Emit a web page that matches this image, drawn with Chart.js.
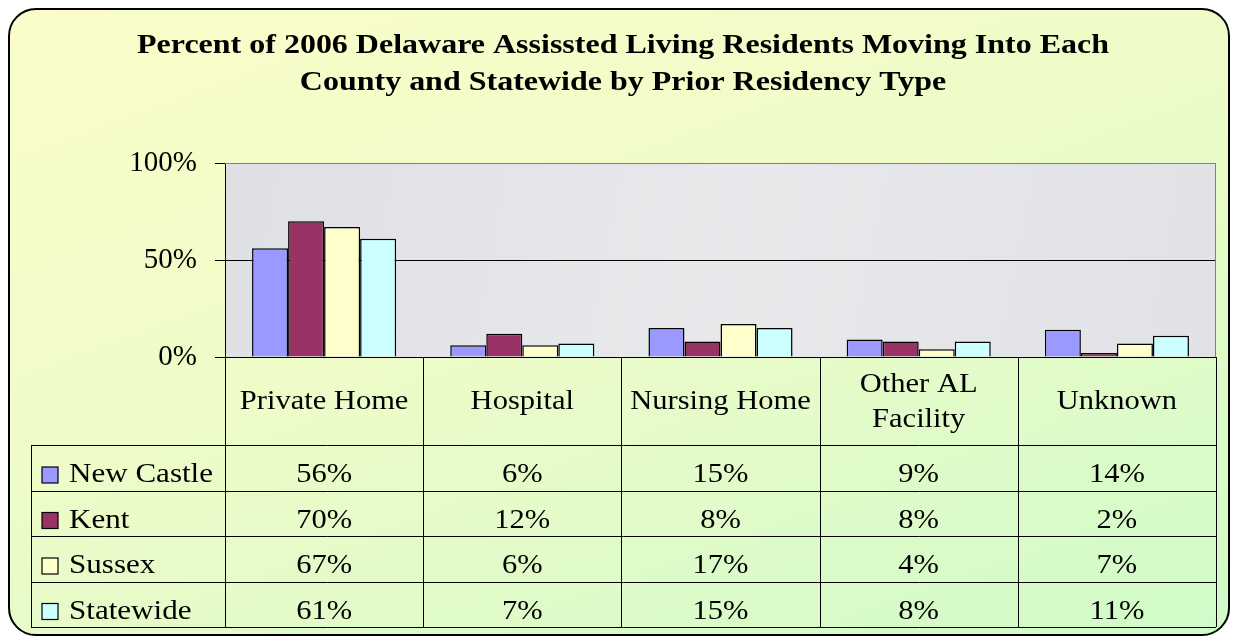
<!DOCTYPE html>
<html>
<head>
<meta charset="utf-8">
<script src="https://cdn.jsdelivr.net/npm/chart.js@4"></script>
<style>
  html, body { margin: 0; padding: 0; width: 1236px; height: 642px; overflow: hidden; background: #fff; }
  #frame {
    position: absolute; left: 8px; top: 8px; width: 1218px; height: 624px;
    border: 2px solid #000; border-radius: 28px;
    background: linear-gradient(160deg, #fbfdc9 0%, #eefcc8 45%, #d0fbc8 100%);
  }
  #chart { position: absolute; left: 0; top: 0; }
</style>
</head>
<body>
<div id="frame"></div>
<canvas id="chart" width="1236" height="642"></canvas>
<script>
const titleLines = ['Percent of 2006 Delaware Assissted Living Residents Moving Into Each',
                    'County and Statewide by Prior Residency Type'];
const categories = [['Private Home'], ['Hospital'], ['Nursing Home'], ['Other AL', 'Facility'], ['Unknown']];
const seriesNames = ['New Castle', 'Kent', 'Sussex', 'Statewide'];
const newCastle = [56, 6, 15, 9, 14];
const kent = [70, 12, 8, 8, 2];
const sussex = [67, 6, 17, 4, 7];
const statewide = [61, 7, 15, 8, 11];
const yTicks = [0, 50, 100];

const colors = ['#9999ff', '#993366', '#ffffcc', '#ccffff'];
const serif = '"Liberation Serif", "Times New Roman", serif';

// draws text stretched horizontally like the original
function drawText(ctx, str, x, y, align, font, sx) {
  ctx.save();
  ctx.font = font;
  ctx.fillStyle = '#000';
  ctx.textBaseline = 'alphabetic';
  ctx.textAlign = align;
  ctx.translate(x, y);
  ctx.scale(sx || 1.13, 1);
  ctx.fillText(str, 0, 0);
  ctx.restore();
}

const tablePlugin = {
  id: 'tablePlugin',
  beforeDraw(chart) {
    const { ctx, chartArea: a } = chart;
    // marble-ish plot background
    const g = ctx.createLinearGradient(a.left, a.top, a.right, a.bottom);
    g.addColorStop(0, '#dfe0e4');
    g.addColorStop(0.5, '#e9e9ec');
    g.addColorStop(1, '#e1e2e6');
    ctx.save();
    ctx.fillStyle = g;
    ctx.fillRect(a.left, a.top, a.right - a.left, a.bottom - a.top);
    ctx.restore();
  },
  afterDraw(chart) {
    const { ctx, chartArea: a } = chart;
    const xs = chart.scales.x;
    const n = categories.length;
    const cw = (a.right - a.left) / n;
    const tableLeft = 31;
    const rowTop = 445;
    const rowH = 45.5;
    const bottom = rowTop + rowH * seriesNames.length;

    // title
    drawText(ctx, titleLines[0], 623, 53, 'center', 'bold 27px ' + serif, 1.185);
    drawText(ctx, titleLines[1], 623, 90, 'center', 'bold 27px ' + serif, 1.185);

    ctx.save();
    // plot border (top/right grey)
    ctx.strokeStyle = '#808080';
    ctx.lineWidth = 1;
    ctx.beginPath();
    ctx.moveTo(a.left, a.top + 0.5);
    ctx.lineTo(a.right - 0.5, a.top + 0.5);
    ctx.lineTo(a.right - 0.5, a.bottom);
    ctx.stroke();

    // table grid
    ctx.strokeStyle = '#000';
    ctx.beginPath();
    for (let r = 0; r <= seriesNames.length; r++) {
      const y = Math.round(rowTop + r * rowH) + 0.5;
      ctx.moveTo(tableLeft, y);
      ctx.lineTo(a.right, y);
    }
    ctx.moveTo(tableLeft + 0.5, rowTop);
    ctx.lineTo(tableLeft + 0.5, bottom);
    for (let i = 0; i <= n; i++) {
      const x = Math.round(a.left + i * cw) + 0.5;
      ctx.moveTo(x, a.bottom);
      ctx.lineTo(x, bottom);
    }
    ctx.stroke();
    ctx.restore();

    // category header
    const font = '27px ' + serif;
    categories.forEach((lab, i) => {
      const cx = xs.getPixelForValue(i);
      if (lab.length === 1) {
        drawText(ctx, lab[0], cx, 409, 'center', font);
      } else {
        drawText(ctx, lab[0], cx, 392, 'center', font);
        drawText(ctx, lab[1], cx, 427, 'center', font);
      }
    });

    // rows
    chart.data.datasets.forEach((ds, r) => {
      const top = rowTop + r * rowH;
      ctx.save();
      ctx.fillStyle = ds.backgroundColor;
      ctx.strokeStyle = '#000';
      ctx.lineWidth = 1.2;
      ctx.fillRect(42, top + 22, 16, 16);
      ctx.strokeRect(42, top + 22, 16, 16);
      ctx.restore();
      drawText(ctx, ds.label, 69, top + 37, 'left', font, 1.15);
      ds.data.forEach((v, i) => {
        drawText(ctx, v + '%', xs.getPixelForValue(i), top + 37, 'center', font);
      });
    });
  }
};

const chart = new Chart(document.getElementById('chart').getContext('2d'), {
  type: 'bar',
  data: {
    labels: categories.map(c => c.join(' ')),
    datasets: [newCastle, kent, sussex, statewide].map((d, i) => ({
      label: seriesNames[i],
      data: d,
      backgroundColor: colors[i],
      borderColor: '#000',
      borderWidth: 1.5,
      categoryPercentage: 0.727,
      barPercentage: 1.0
    }))
  },
  options: {
    responsive: false,
    animation: false,
    layout: { padding: { top: 163, right: 20, bottom: 285, left: 0 } },
    plugins: {
      legend: { display: false },
      title: { display: false },
      tooltip: { enabled: false }
    },
    scales: {
      x: { display: false },
      y: {
        min: 0,
        max: 100,
        afterFit(scale) { scale.width = 225; },
        afterBuildTicks(scale) { scale.ticks = yTicks.map(v => ({ value: v })); },
        border: { display: true, color: '#000', width: 1 },
        grid: {
          color: ctx => ctx.tick && ctx.tick.value === 100 ? '#808080' : '#000',
          tickColor: '#000',
          tickLength: 10,
          lineWidth: 1
        },
        ticks: {
          padding: 18,
          color: '#000',
          font: { family: serif, size: 29 },
          callback: v => v + '%'
        }
      }
    }
  },
  plugins: [tablePlugin]
});
</script>
</body>
</html>
